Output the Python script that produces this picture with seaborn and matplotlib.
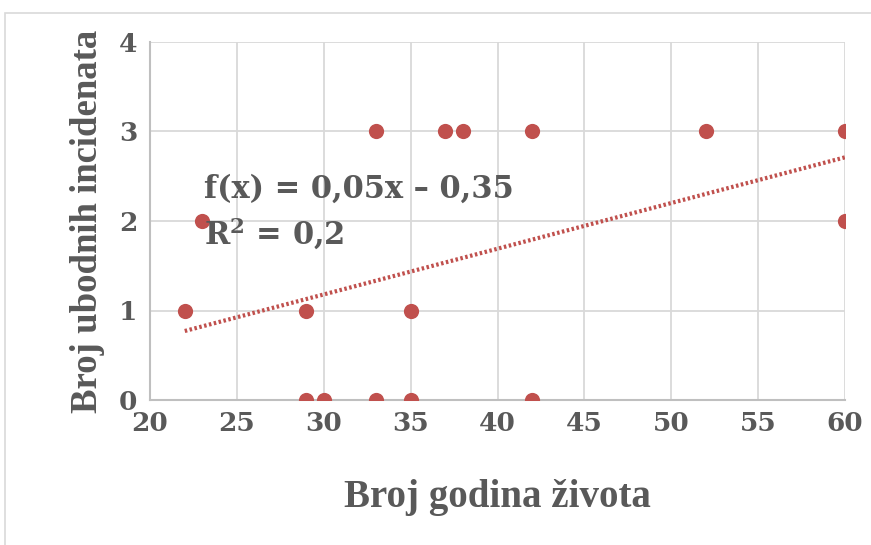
import numpy as np
import pandas as pd
import matplotlib
matplotlib.use("Agg")
import matplotlib.pyplot as plt
from matplotlib.patches import Rectangle
import seaborn as sns

# godine i broj incidenata
godine = [22, 23, 29, 29, 30, 33, 33, 35, 35, 37, 38, 42, 42, 52, 60, 60]
incidenti = [1, 2, 1, 0, 0, 3, 0, 1, 0, 3, 3, 3, 0, 3, 3, 2]
x_ticks = [20, 25, 30, 35, 40, 45, 50, 55, 60]
y_ticks = [0, 1, 2, 3, 4]

df = pd.DataFrame({"godine": godine, "incidenti": incidenti})

red = "#c0504d"
grey_txt = "#595959"

sns.set_style("white")
plt.rcParams["font.family"] = ["DejaVu Serif"]
plt.rcParams["mathtext.fontset"] = "dejavuserif"

fig = plt.figure(figsize=(8.71, 5.45), dpi=100)
fig.patches.append(Rectangle((5 / 871, -0.1), 1.2, (545 - 13) / 545 + 0.1,
                             transform=fig.transFigure, fill=False,
                             edgecolor="#d9d9d9", linewidth=1.2))
ax = fig.add_axes([150 / 871, (545 - 400) / 545, 695 / 871, 358 / 545])

sns.regplot(data=df, x="godine", y="incidenti", scatter=False, ci=None, ax=ax,
            line_kws={"color": red, "linestyle": (0, (0.6, 0.6)), "linewidth": 3})
sns.scatterplot(data=df, x="godine", y="incidenti", color=red, s=120,
                edgecolor=red, linewidth=0, ax=ax, zorder=4)

ax.set_xlim(20, 60)
ax.set_ylim(0, 4)
ax.set_xticks(x_ticks)
ax.set_yticks(y_ticks)
ax.grid(True, color="#d9d9d9", linewidth=1.3)
ax.set_axisbelow(True)
for s in ["top", "right"]:
    ax.spines[s].set_visible(False)
for s in ["left", "bottom"]:
    ax.spines[s].set_color("#bfbfbf")
    ax.spines[s].set_linewidth(1.5)
ax.tick_params(length=0, labelsize=19, labelcolor=grey_txt)
ax.tick_params(axis="x", pad=8)
ax.tick_params(axis="y", pad=9)
for lab in ax.get_xticklabels() + ax.get_yticklabels():
    lab.set_fontweight("bold")

ax.set_xlabel("Broj godina života", family="Liberation Serif", fontsize=28,
              fontweight="bold", color=grey_txt, labelpad=31)
ax.set_ylabel("Broj ubodnih incidenata", family="Liberation Serif", fontsize=26.5,
              fontweight="bold", color=grey_txt, labelpad=10)

k, n = np.polyfit(godine, incidenti, 1)
r2 = np.corrcoef(godine, incidenti)[0, 1] ** 2
eq1 = "f(x) = {:.2f}x \u2013 {:.2f}".format(k, abs(n)).replace(".", ",")
eq2 = "R$^{{\\mathbf{{2}}}}$ = {:.1f}".format(r2).replace(".", ",")
ax.text(23.1, 2.35, eq1, fontsize=22, fontweight="bold", color=grey_txt,
        va="center", ha="left", zorder=5)
ax.text(23.1, 1.86, eq2, fontsize=22, fontweight="bold", color=grey_txt,
        va="center", ha="left", zorder=5)

fig.savefig("out.png", dpi=100)
